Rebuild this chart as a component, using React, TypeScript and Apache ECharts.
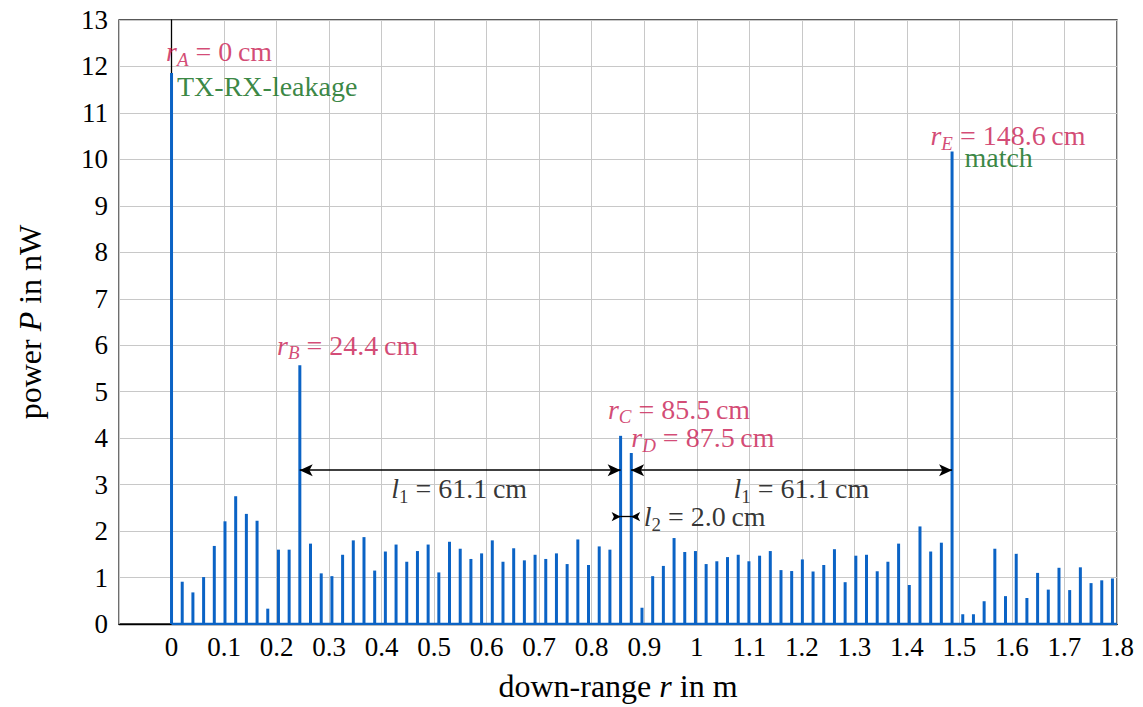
import React, { useEffect, useRef } from "react";
import * as echarts from "echarts";

// FFT bin spacing (m) and measured power per bin (nW)
const binWidth = 0.020356;
const power = [
  11.86, 0.91, 0.68, 1.01, 1.68, 2.21, 2.75, 2.37, 2.22, 0.33, 1.6, 1.6, 5.57,
  1.73, 1.09, 1.03, 1.49, 1.8, 1.87, 1.15, 1.56, 1.71, 1.34, 1.57, 1.71, 1.11,
  1.77, 1.62, 1.4, 1.52, 1.8, 1.34, 1.63, 1.37, 1.49, 1.4, 1.52, 1.29, 1.82,
  1.27, 1.67, 1.6, 4.05, 3.68, 0.35, 1.03, 1.25, 1.85, 1.55, 1.57, 1.29, 1.35,
  1.44, 1.49, 1.35, 1.47, 1.57, 1.16, 1.14, 1.39, 1.13, 1.27, 1.61, 0.9, 1.47,
  1.49, 1.135, 1.34, 1.73, 0.84, 2.1, 1.56, 1.75, 10.17, 0.21, 0.21, 0.49,
  1.62, 0.6, 1.51, 0.56, 1.1, 0.74, 1.21, 0.73, 1.22, 0.88, 0.94, 0.98,
];

// peak positions (m)
const rB = 0.244;
const rC = 0.855;
const rD = 0.875;
const rE = 1.486;

const xMin = -0.1;
const xMax = 1.8;
const xStep = 0.1;
const yMin = 0;
const yMax = 13;
const yStep = 1;

const FONT = "Liberation Serif";
const FS = 27;
const FA = 28;
const FN = 32;
const BLUE = "#0b63c5";
const CRIMSON = "#c81a52";
const GREEN = "#066812";

const annotations = [
  { t: "{i|r}{s|A}{n| = 0\u2009cm}", x: -0.0095, y: 12.31, c: CRIMSON, align: "left" },
  { t: "{n|TX-RX-leakage}", x: 0.0114, y: 11.56, c: GREEN, align: "left" },
  { t: "{i|r}{s|B}{n| = 24.4\u2009cm}", x: 0.2019, y: 5.99, c: CRIMSON, align: "left" },
  { t: "{i|r}{s|C}{n| = 85.5\u2009cm}", x: 0.8318, y: 4.61, c: CRIMSON, align: "left" },
  { t: "{i|r}{s|D}{n| = 87.5\u2009cm}", x: 0.8762, y: 4.0, c: CRIMSON, align: "left" },
  { t: "{i|r}{s|E}{n| = 148.6\u2009cm}", x: 1.4457, y: 10.5, c: CRIMSON, align: "left" },
  { t: "{n|match}", x: 1.5105, y: 10.03, c: GREEN, align: "left" },
  { t: "{i|l}{u|1}{n| = 61.1\u2009cm}", x: 0.5486, y: 2.9, c: "#000", align: "center" },
  { t: "{i|l}{u|1}{n| = 61.1\u2009cm}", x: 1.2, y: 2.9, c: "#000", align: "center" },
  { t: "{i|l}{u|2}{n| = 2.0\u2009cm}", x: 0.9, y: 2.3, c: "#000", align: "left" },
];

const l1Y = 3.31;
const l2Y = 2.31;

export default function App() {
  const ref = useRef<HTMLDivElement>(null);
  useEffect(() => {
    if (!ref.current) return;
    document.body.style.margin = "0";
    const chart = echarts.init(ref.current, null, { renderer: "svg" });
    const rich = {
      n: { fontFamily: FONT, fontSize: FA, lineHeight: 34 },
      i: { fontFamily: FONT, fontSize: FA, fontStyle: "italic", lineHeight: 34 },
      s: { fontFamily: FONT, fontSize: 19, fontStyle: "italic", lineHeight: 19, verticalAlign: "bottom" },
      u: { fontFamily: FONT, fontSize: 19, lineHeight: 19, verticalAlign: "bottom" },
    };
    const arrowLine = (x1: number, x2: number, y: number) => [
      { coord: [x1, y] },
      { coord: [x2, y] },
    ];
    chart.setOption({
      animation: false,
      textStyle: { fontFamily: FONT },
      grid: {
        left: 119,
        right: 26,
        top: 20,
        bottom: 83,
        containLabel: false,
        outerBoundsMode: "none",
        show: true,
        borderColor: "#222",
        borderWidth: 1.3,
        backgroundColor: "transparent",
      },
      xAxis: {
        type: "value",
        min: xMin,
        max: xMax,
        interval: xStep,
        name: "down-range {i|r} in m",
        nameLocation: "middle",
        nameGap: 46,
        nameTextStyle: {
          fontFamily: FONT,
          fontSize: FN,
          color: "#000",
          rich: { i: { fontFamily: FONT, fontSize: FN, fontStyle: "italic", color: "#000" } },
        },
        axisLine: { show: true, onZero: false, lineStyle: { color: "#000", width: 1.3 } },
        axisTick: { show: false },
        axisLabel: {
          fontFamily: FONT,
          fontSize: FS,
          color: "#000",
          margin: 9,
          hideOverlap: false,
          formatter: (v: number) => (v < -0.05 ? "" : String(Math.round(v * 10) / 10)),
        },
        splitLine: { show: true, lineStyle: { color: "#c8c8c8", width: 1 } },
      },
      yAxis: {
        type: "value",
        min: yMin,
        max: yMax,
        interval: yStep,
        name: "power {i|P} in nW",
        nameLocation: "middle",
        nameRotate: 90,
        nameGap: 73,
        nameTextStyle: {
          fontFamily: FONT,
          fontSize: FN,
          color: "#000",
          rich: { i: { fontFamily: FONT, fontSize: FN, fontStyle: "italic", color: "#000" } },
        },
        axisLine: { show: true, lineStyle: { color: "#000", width: 1.3 } },
        axisTick: { show: false },
        axisLabel: { fontFamily: FONT, fontSize: FS, color: "#000", margin: 11 },
        splitLine: { show: true, lineStyle: { color: "#c8c8c8", width: 1 } },
      },
      series: [
        {
          type: "line",
          data: [
            [0, 0],
            [xMax, 0],
          ],
          showSymbol: false,
          symbol: "none",
          lineStyle: { color: BLUE, width: 2.5 },
          silent: true,
          z: 3,
        },
        {
          type: "bar",
          data: power.map((p, i) => [i * binWidth, p]),
          barWidth: 3,
          itemStyle: { color: BLUE },
          silent: true,
          z: 4,
          markLine: {
            silent: true,
            symbol: ["arrow", "arrow"],
            symbolSize: [9, 13],
            label: { show: false },
            lineStyle: { color: "#000", width: 1.6, type: "solid" },
            data: [arrowLine(rB, rC, l1Y), arrowLine(rD, rE, l1Y)],
          },
        },
        {
          type: "line",
          data: [],
          silent: true,
          markLine: {
            silent: true,
            symbol: ["none", "arrow"],
            symbolSize: [7, 9],
            label: { show: false },
            lineStyle: { color: "#000", width: 1.3, type: "solid" },
            data: [
              arrowLine(rC - 0.012, rC, l2Y),
              arrowLine(rD + 0.012, rD, l2Y),
            ],
          },
        },
        {
          type: "line",
          data: [],
          silent: true,
          markLine: {
            silent: true,
            symbol: ["none", "none"],
            label: { show: false },
            lineStyle: { color: "#000", width: 1.3, type: "solid" },
            data: [arrowLine(rC, rD, l2Y)],
          },
        },
        {
          type: "scatter",
          symbolSize: 1,
          silent: true,
          itemStyle: { color: "rgba(0,0,0,0)" },
          z: 10,
          data: annotations.map((a) => ({
            value: [a.x, a.y],
            label: {
              show: true,
              position: [0, 0],
              align: a.align,
              verticalAlign: "middle",
              formatter: a.t,
              color: a.c,
              rich,
            },
          })),
        },
      ],
    });
    return () => chart.dispose();
  }, []);
  return <div ref={ref} style={{ width: 1143, height: 707 }} />;
}
